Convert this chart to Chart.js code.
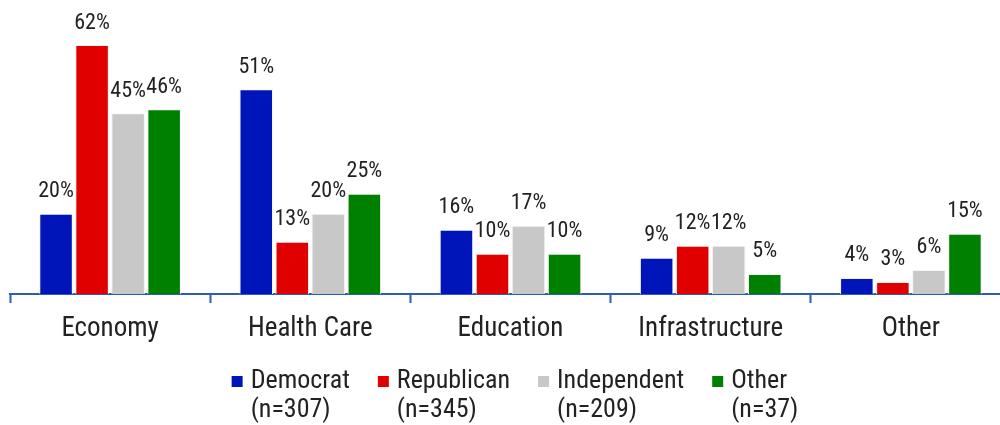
<!DOCTYPE html>
<html>
<head>
<meta charset="utf-8">
<script src="https://cdn.jsdelivr.net/npm/chart.js@4.4.0/dist/chart.umd.min.js"></script>
<style>
  html, body { margin: 0; padding: 0; background: #fff; overflow: hidden; }
  #wrap { width: 1011px; height: 425px; }
</style>
</head>
<body>
<div id="wrap"><canvas id="chart-bar"></canvas></div>
<script>
// Data
const categories = ['Economy', 'Health Care', 'Education', 'Infrastructure', 'Other'];
const democrat = [20, 51, 16, 9, 4];
const republican = [62, 13, 10, 12, 3];
const independent = [45, 20, 17, 12, 6];
const other = [46, 25, 10, 5, 15];
const seriesNames = ['Democrat', 'Republican', 'Independent', 'Other'];
const seriesCounts = ['(n=307)', '(n=345)', '(n=209)', '(n=37)'];
const seriesColors = ['#0015b9', '#e00000', '#c8c8c8', '#008000'];

const narrow = '"Liberation Sans Narrow", "Roboto Condensed", "DejaVu Sans Condensed", sans-serif';

// Percentage labels above each bar
const valueLabels = {
    id: 'valueLabels',
    afterDatasetsDraw(chart) {
        const ctx = chart.ctx;
        ctx.save();
        ctx.font = '22px ' + narrow;
        ctx.fillStyle = '#222';
        ctx.textAlign = 'center';
        ctx.textBaseline = 'middle';
        chart.data.datasets.forEach((ds, i) => {
            chart.getDatasetMeta(i).data.forEach((bar, j) => {
                ctx.fillText(ds.data[j] + '%', bar.x, bar.y - 22);
            });
        });
        ctx.restore();
    }
};

// Two-line legend at the bottom
const bottomLegend = {
    id: 'bottomLegend',
    afterDraw(chart) {
        const ctx = chart.ctx;
        ctx.save();
        ctx.font = '26px ' + narrow;
        ctx.fillStyle = '#222';
        ctx.textBaseline = 'middle';
        const box = 11, boxGap = 8, itemGap = 28;
        const widths = seriesNames.map((name, i) =>
            box + boxGap + Math.max(ctx.measureText(name).width, ctx.measureText(seriesCounts[i]).width));
        const total = widths.reduce((a, b) => a + b, 0) + itemGap * (widths.length - 1);
        let x = 515 - total / 2;
        const y1 = 381, y2 = 410;
        seriesNames.forEach((name, i) => {
            ctx.fillStyle = seriesColors[i];
            ctx.fillRect(x, y1 - 5, box, box);
            ctx.fillStyle = '#222';
            ctx.fillText(name, x + box + boxGap, y1);
            ctx.fillText(seriesCounts[i], x + box + boxGap, y2);
            x += widths[i] + itemGap;
        });
        ctx.restore();
    }
};

const datasets = [democrat, republican, independent, other].map((values, i) => ({
    label: seriesNames[i],
    data: values,
    backgroundColor: seriesColors[i],
    borderColor: '#f4f4f4',
    borderWidth: 1,
    categoryPercentage: 0.72,
    barPercentage: 0.93
}));

const ctx = document.getElementById('chart-bar').getContext('2d');
new Chart(ctx, {
    type: 'bar',
    data: {
        labels: categories,
        datasets: datasets
    },
    options: {
        responsive: true,
        maintainAspectRatio: false,
        animation: false,
        layout: {
            padding: { top: 13, left: 10, right: 0, bottom: 80 }
        },
        plugins: {
            legend: { display: false },
            tooltip: { enabled: false }
        },
        scales: {
            x: {
                afterFit(scale) { scale.height = 51; },
                grid: {
                    display: true,
                    drawOnChartArea: false,
                    drawTicks: true,
                    tickLength: 9,
                    tickWidth: 2,
                    tickColor: '#2a5cb8',
                    offset: true
                },
                border: { display: true, color: '#2a5cb8', width: 2 },
                ticks: {
                    color: '#222',
                    padding: 10,
                    font: { size: 27, family: narrow }
                }
            },
            y: {
                display: false,
                min: 0,
                max: 70
            }
        }
    },
    plugins: [valueLabels, bottomLegend]
});
</script>
</body>
</html>
